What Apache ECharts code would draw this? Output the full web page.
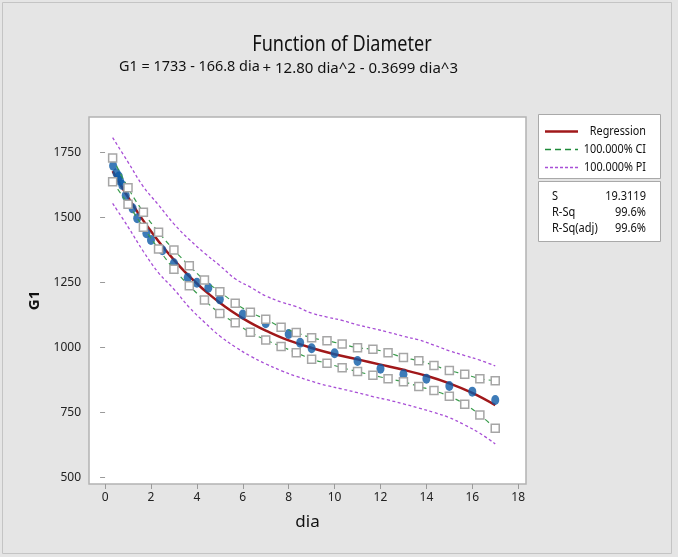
<!DOCTYPE html>
<html><head><meta charset="utf-8">
<script src="https://cdn.jsdelivr.net/npm/echarts@6/dist/echarts.min.js"></script>
<style>html,body{margin:0;padding:0;background:#e5e5e5;}#c{width:678px;height:557px;}</style>
</head><body><div id="c"></div>
<script>
// observed data
const diaObs = [0.35,0.5,0.6,0.65,0.75,0.9,1.2,1.4,1.8,2.0,2.5,3.0,3.6,4.0,4.5,5.0,6.0,7.0,8.0,8.5,9.0,10,11,12,13,14,15,16,17];
const g1Obs  = [1700,1671,1658,1642,1626,1585,1536,1498,1440,1414,1375,1325,1269,1250,1231,1186,1128,1094,1053,1019,998,979,949,919,898,881,853,831,799];
// fitted regression curve
const fitX = [0.33,0.5,1,1.5,2,2.5,3,3.5,4,4.5,5,5.5,6,6.5,7,8,9,10,11,12,13,14,15,16,17];
const fitY = [1679,1653,1579,1510,1448,1390,1338,1290,1247,1208,1173,1141,1113,1088,1066,1028,999,975,955,935,915,892,863,826,779];
// interval grid
const bandX = [0.33,1.0,1.67,2.33,3.0,3.67,4.33,5.0,5.67,6.33,7.0,7.67,8.33,9.0,9.67,10.33,11.0,11.67,12.33,13.0,13.67,14.33,15.0,15.67,16.33,17.0];
const ciUpper = [1730,1615,1521,1444,1376,1315,1260,1215,1171,1136,1109,1079,1058,1038,1027,1014,1000,994,981,962,950,932,912,898,881,873];
const ciLower = [1638,1552,1463,1380,1302,1238,1183,1132,1096,1059,1030,1005,981,956,940,923,908,894,881,869,851,835,813,783,741,690];
const piUpper = [1808,1714,1619,1549,1476,1416,1364,1316,1265,1233,1199,1176,1158,1133,1118,1105,1088,1074,1060,1044,1030,1010,988,970,952,930];
const piLower = [1555,1465,1370,1288,1225,1155,1098,1045,1003,968,938,912,890,871,854,841,827,812,799,784,768,751,731,703,671,630];
// axis ticks
const xTicks = [0,2,4,6,8,10,12,14,16,18];
const yTicks = [500,750,1000,1250,1500,1750];
const titleText = 'Function of Diameter';
const eqPart1 = 'G1 = 1733 - 166.8 dia';
const eqPart2 = '+ 12.80 dia^2 - 0.3699 dia^3';
const legendItems = ['Regression','100.000% CI','100.000% PI'];
const statNames = ['S','R-Sq','R-Sq(adj)'];
const statValues = ['19.3119','99.6%','99.6%'];

const zip = (a,b) => a.map((v,i)=>[v,b[i]]);
const FONT = 'Noto Sans';
const RED = '#a0181a', GREEN = '#3a9c4c', PURPLE = '#a84fd6', BLUE = '#0c5aa6';

const chart = echarts.init(document.getElementById('c'), null, {renderer:'canvas'});

function txt(x, y, s, size, align, sx, extra) {
  return Object.assign({type:'text', x:x, y:y, scaleX:sx,
    style:{text:s, font:size+'px "'+FONT+'"', fill:'#111', align:align, verticalAlign:'middle'}}, extra||{});
}

const graphics = [
  {type:'rect', shape:{x:2.5,y:2.5,width:669,height:551}, style:{fill:null, stroke:'#c4c4c4', lineWidth:1}, z:-1},
  txt(342, 45, titleText, 21, 'center', 0.86),
  txt(119, 67, eqPart1, 15, 'left', 0.96),
  txt(458, 69, eqPart2, 15, 'right', 1.0),
  // legend box
  {type:'rect', shape:{x:538.5,y:114.5,width:122,height:64}, style:{fill:'#fff', stroke:'#a9a9a9', lineWidth:1}},
  {type:'line', shape:{x1:545,y1:131.5,x2:578,y2:131.5}, style:{stroke:RED, lineWidth:2.5}},
  {type:'line', shape:{x1:545,y1:149.5,x2:578,y2:149.5}, style:{stroke:'#1f8a3a', lineWidth:1.3, lineDash:[6,4]}},
  {type:'line', shape:{x1:545,y1:167.5,x2:578,y2:167.5}, style:{stroke:PURPLE, lineWidth:1.3, lineDash:[3,2]}},
  // stats box
  {type:'rect', shape:{x:538.5,y:181.5,width:122,height:60}, style:{fill:'#fff', stroke:'#a9a9a9', lineWidth:1}}
];
legendItems.forEach((t,i)=>graphics.push(txt(646, 131.5+18*i, t, 12, 'right', 0.9)));
statNames.forEach((t,i)=>{
  graphics.push(txt(552, 197+16*i, t, 12, 'left', 0.92));
  graphics.push(txt(646, 197+16*i, statValues[i], 12, 'right', 0.92));
});

const piStyle = {color:PURPLE, width:1.3, type:[3,2.5]};
const ciStyle = {color:GREEN, width:1.2, type:[5,4]};
const sq = {color:'#fff', borderColor:'#a6a6a6', borderWidth:1.5};

chart.setOption({
  animation:false,
  backgroundColor:'#e5e5e5',
  textStyle:{fontFamily:FONT},
  grid:{left:89, top:117, right:152, bottom:73, show:true, backgroundColor:'#fff', borderColor:'#b3b3b3', borderWidth:1.5},
  xAxis:{type:'value', min:-0.7, max:18.34,
    name:'dia', nameLocation:'middle', nameGap:30, nameTextStyle:{fontSize:17, color:'#111', fontFamily:FONT},
    axisLine:{show:false},
    axisTick:{show:true, inside:false, length:5, lineStyle:{color:'#9a9a9a'}, customValues:xTicks},
    axisLabel:{customValues:xTicks, fontSize:12, color:'#222', margin:8, formatter:v=>String(v)},
    splitLine:{show:false}},
  yAxis:{type:'value', min:475.8, max:1887.3,
    name:'G1', nameLocation:'middle', nameGap:42, nameTextStyle:{fontSize:15, fontWeight:'bold', color:'#111', fontFamily:FONT},
    axisLine:{show:false},
    axisTick:{show:true, inside:false, length:5, lineStyle:{color:'#9a9a9a'}, customValues:yTicks},
    axisLabel:{customValues:yTicks, fontSize:12, color:'#222', margin:8, formatter:v=>String(v)},
    splitLine:{show:false}},
  graphic:graphics,
  series:[
    {type:'line', data:zip(bandX,piUpper), smooth:0.4, showSymbol:false, lineStyle:piStyle, z:2},
    {type:'line', data:zip(bandX,piLower), smooth:0.4, showSymbol:false, lineStyle:piStyle, z:2},
    {type:'line', data:zip(bandX,ciUpper), smooth:0.4, symbol:'rect', symbolSize:8, showSymbol:true, lineStyle:ciStyle, itemStyle:sq, z:5},
    {type:'line', data:zip(bandX,ciLower), smooth:0.4, symbol:'rect', symbolSize:8, showSymbol:true, lineStyle:ciStyle, itemStyle:sq, z:5},
    {type:'line', data:zip(fitX,fitY), smooth:0.4, showSymbol:false, lineStyle:{color:RED, width:2.5}, z:3},
    {type:'scatter', data:zip(diaObs,g1Obs), symbol:'circle', symbolSize:[8,10], itemStyle:{color:BLUE}, z:4}
  ]
});
</script></body></html>
